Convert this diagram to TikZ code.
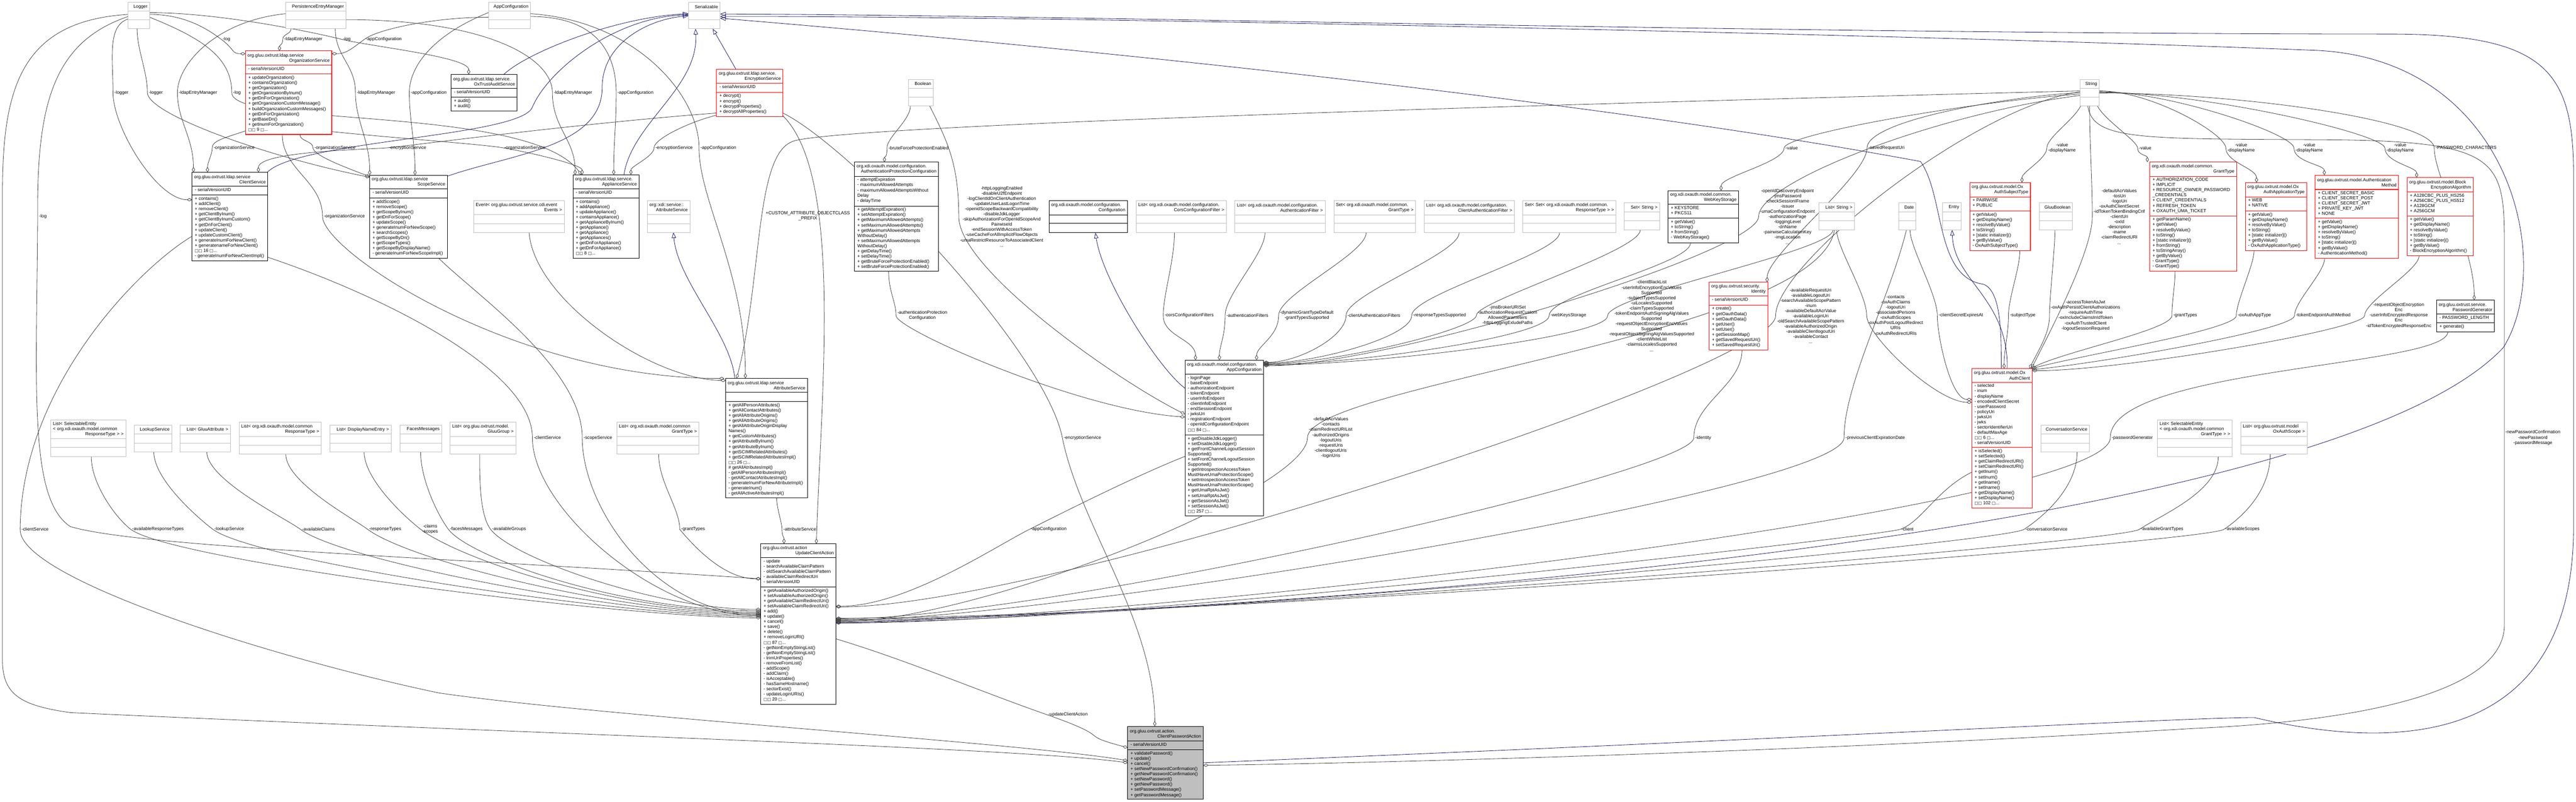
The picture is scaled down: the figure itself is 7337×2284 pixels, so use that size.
\documentclass[tikz,border=0pt]{standalone}
\usepackage{fontspec}
\setmainfont{Liberation Sans}
\newfontfamily\djv{DejaVu Sans}
\usetikzlibrary{arrows.meta}
\definecolor{edgec}{HTML}{404040}
\definecolor{navyc}{HTML}{191970}
\definecolor{boxgray}{HTML}{BFBFBF}
\definecolor{cpagray}{HTML}{BFBFBF}
\pgfdeclarelayer{bgzero}
\pgfdeclarelayer{edgelayer}
\pgfsetlayers{bgzero,edgelayer,main}
\newcommand\fs{\fontsize{12.8}{14.8}\selectfont}
\newcommand\ctr[1]{\hspace*{0pt plus 1filll}#1\hspace*{0pt plus 1filll}}
\newcommand\mrx[1]{{\djv\fontsize{11}{14.8}\selectfont □□}~#1~{\djv\fontsize{11}{14.8}\selectfont □}...}
\tikzset{
  grybox/.style={draw=boxgray, fill=white, line width=1.2pt, inner sep=0pt, outer sep=0pt},
  gryboxsep/.style={draw=boxgray, line width=1.2pt},
  blkbox/.style={draw=black, fill=white, line width=1.4pt, inner sep=0pt, outer sep=0pt},
  blkboxsep/.style={draw=black, line width=1.4pt},
  redbox/.style={draw=red, fill=white, line width=1.6pt, inner sep=0pt, outer sep=0pt},
  redboxsep/.style={draw=red, line width=1.6pt},
  cpabox/.style={draw=black, fill=cpagray, line width=1.4pt, inner sep=0pt, outer sep=0pt},
  cpaboxsep/.style={draw=black, line width=1.4pt},
  txt/.style={font=\fs, inner sep=0pt, outer sep=0pt},
  lbl/.style={font=\fs, align=center, inner sep=0pt},
  agg/.style={draw=edgec, line width=1.2pt, -{Diamond[open, length=15pt, width=9pt]}},
  inh/.style={draw=navyc, line width=1.2pt, -{Triangle[open, length=16pt, width=12pt]}},
}
% name, style, x1, y1, x2, y2, ya, yb, title
\newcommand\cls[9]{%
  \pgfmathsetmacro\bw{#5-#3}\pgfmathsetmacro\bh{#6-#4}\pgfmathsetmacro\tw{#5-#3-12}%
  \node[#2, minimum width=\bw pt, minimum height=\bh pt, anchor=north west] (#1) at (#3,#4) {};
  \draw[#2sep] (#3,#7) -- (#5,#7) (#3,#8) -- (#5,#8);
  \node[txt, text width=\tw pt, align=left] (#1T) at ({(#3+#5)/2},{(#4+#7)/2}) {#9};
  \coordinate (#1-a) at ({#3+8},{#7+5});
  \coordinate (#1-m) at ({#3+8},{#8+5});
}
\newcommand\clsA[2]{\node[txt, anchor=north west, align=left] (#1A) at (#1-a) {#2};}
\newcommand\clsM[2]{\node[txt, anchor=north west, align=left] (#1M) at (#1-m) {#2};}
% src, label, target, src-ctrl, mid-before, mid-after, tgt-ctrl
\newcommand\cnx[7]{\draw[agg] (#1) .. controls +(#4) and +(#5) .. ([xshift=-4pt]#2.west) .. controls +(#6) and +(#7) .. (#3);}
\begin{document}
\begin{tikzpicture}[x=1pt, y=-1pt]
\useasboundingbox (0,0) rectangle (7337,2284);
\begin{pgfonlayer}{bgzero}
\fill[white] (0,0) rectangle (7337,2284);
\end{pgfonlayer}

% ---------- gray boxes ----------
\cls{log}{grybox}{365}{6}{426}{82}{32}{56}{\ctr{Logger}}
\cls{pem}{grybox}{814}{6}{985}{82}{32}{56}{\ctr{PersistenceEntryManager}}
\cls{appc}{grybox}{1391}{6}{1511}{82}{32}{56}{\ctr{AppConfiguration}}
\cls{ser}{grybox}{1961}{6}{2051}{82}{32}{56}{\ctr{Serializable}}
\cls{bool}{grybox}{2588}{226}{2658}{302}{252}{277}{\ctr{Boolean}}
\cls{str}{grybox}{5924}{226}{5979}{302}{252}{277}{\ctr{String}}
\cls{sets}{grybox}{4626}{578}{4727}{655}{604}{629}{\ctr{Set< String >}}
\cls{lists}{grybox}{5181}{578}{5282}{655}{604}{629}{\ctr{List< String >}}
\cls{date}{grybox}{5408}{578}{5457}{655}{604}{629}{\ctr{Date}}
\cls{entry}{grybox}{5533}{578}{5586}{655}{604}{629}{\ctr{Entry}}
\cls{gbool}{grybox}{5808}{578}{5903}{655}{604}{629}{\ctr{GluuBoolean}}
\cls{lookup}{grybox}{382}{1211}{489}{1287}{1236}{1262}{\ctr{LookupService}}
\cls{lgattr}{grybox}{513}{1211}{656}{1287}{1236}{1262}{\ctr{List< GluuAttribute >}}
\cls{ldne}{grybox}{940}{1211}{1114}{1287}{1236}{1262}{\ctr{List< DisplayNameEntry >}}
\cls{faces}{grybox}{1139}{1211}{1258}{1287}{1236}{1262}{\ctr{FacesMessages}}
\cls{conv}{grybox}{5813}{1211}{5951}{1287}{1236}{1262}{\ctr{ConversationService}}
\cls{event}{grybox}{1349}{571}{1607}{662}{611}{637}{Event< org.gluu.oxtrust.service.cdi.event\\\ctr{Events >}}
\cls{xattr}{grybox}{1844}{571}{1965}{662}{611}{637}{org::xdi::service::\\\ctr{AttributeService}}
\cls{lcors}{grybox}{3236}{571}{3493}{663}{612}{636}{List< org.xdi.oxauth.model.configuration.\\\ctr{CorsConfigurationFilter >}}
\cls{lauth}{grybox}{3517}{571}{3774}{663}{612}{636}{List< org.xdi.oxauth.model.configuration.\\\ctr{AuthenticationFilter >}}
\cls{sgrant}{grybox}{3799}{571}{4032}{663}{612}{636}{Set< org.xdi.oxauth.model.common.\\\ctr{GrantType >}}
\cls{lcauth}{grybox}{4056}{571}{4313}{663}{612}{636}{List< org.xdi.oxauth.model.configuration.\\\ctr{ClientAuthenticationFilter >}}
\cls{ssresp}{grybox}{4337}{571}{4603}{663}{612}{636}{Set< Set< org.xdi.oxauth.model.common.\\\ctr{ResponseType > >}}
\cls{lresp}{grybox}{681}{1203}{915}{1294}{1243}{1269}{List< org.xdi.oxauth.model.common\\\ctr{ResponseType >}}
\cls{lgroup}{grybox}{1282}{1203}{1469}{1294}{1243}{1269}{List< org.gluu.oxtrust.model.\\\ctr{GluuGroup >}}
\cls{lgrant}{grybox}{1757}{1203}{1991}{1294}{1243}{1269}{List< org.xdi.oxauth.model.common\\\ctr{GrantType >}}
\cls{lscope}{grybox}{6382}{1203}{6571}{1294}{1243}{1269}{List< org.gluu.oxtrust.model\\\ctr{OxAuthScope >}}
\cls{lsresp}{grybox}{145}{1196}{358}{1301}{1250}{1275}{List< SelectableEntity\\< org.xdi.oxauth.model.common\\\ctr{ResponseType > >}}
\cls{lsgrant}{grybox}{6145}{1196}{6358}{1301}{1250}{1275}{List< SelectableEntity\\< org.xdi.oxauth.model.common\\\ctr{GrantType > >}}

% ---------- black boxes ----------
\cls{cs}{blkbox}{547}{491}{763}{743}{531}{556}{org.gluu.oxtrust.ldap.service\\\ctr{ClientService}}
\clsA{cs}{- serialVersionUID}
\clsM{cs}{+ contains()\\+ addClient()\\+ removeClient()\\+ getClientByInum()\\+ getClientByInumCustom()\\+ getDnForClient()\\+ updateClient()\\+ updateCustomClient()\\+ generateInumForNewClient()\\+ generatenameForNewClient()\\\mrx{16}\\- generateInumForNewClientImpl()}
\cls{ss}{blkbox}{1053}{499}{1274}{736}{538}{564}{org.gluu.oxtrust.ldap.service\\\ctr{ScopeService}}
\clsA{ss}{- serialVersionUID}
\clsM{ss}{+ addScope()\\+ removeScope()\\+ getScopeByInum()\\+ getDnForScope()\\+ updateScope()\\+ generateInumForNewScope()\\+ searchScopes()\\+ getScopeByDn()\\+ getScopeTypes()\\+ getScopeByDisplayName()\\- generateInumForNewScopeImpl()}
\cls{ota}{blkbox}{1285}{212}{1473}{316}{252}{277}{org.gluu.oxtrust.ldap.service.\\\ctr{OxTrustAuditService}}
\clsA{ota}{- serialVersionUID}
\clsM{ota}{+ audit()\\+ audit()}
\cls{aps}{blkbox}{1632}{498}{1820}{736}{538}{564}{org.gluu.oxtrust.ldap.service.\\\ctr{ApplianceService}}
\clsA{aps}{- serialVersionUID}
\clsM{aps}{+ contains()\\+ addAppliance()\\+ updateAppliance()\\+ containsAppliance()\\+ getApplianceByInum()\\+ getAppliance()\\+ getAppliance()\\+ getAppliances()\\+ getDnForAppliance()\\+ getDnForAppliance()\\\mrx{8}}
\cls{apc}{blkbox}{2434}{462}{2673}{772}{502}{587}{org.xdi.oxauth.model.configuration.\\\ctr{AuthenticationProtectionConfiguration}}
\clsA{apc}{- attemptExpiration\\- maximumAllowedAttempts\\- maximumAllowedAttemptsWithout\\Delay\\- delayTime}
\clsM{apc}{+ getAttemptExpiration()\\+ setAttemptExpiration()\\+ getMaximumAllowedAttempts()\\+ setMaximumAllowedAttempts()\\+ getMaximumAllowedAttempts\\WithoutDelay()\\+ setMaximumAllowedAttempts\\WithoutDelay()\\+ getDelayTime()\\+ setDelayTime()\\+ getBruteForceProtectionEnabled()\\+ setBruteForceProtectionEnabled()}
\cls{conf}{blkbox}{2988}{571}{3211}{663}{612}{636}{org.xdi.oxauth.model.configuration.\\\ctr{Configuration}}
\cls{wks}{blkbox}{4751}{543}{4952}{692}{582}{622}{org.xdi.oxauth.model.common.\\\ctr{WebKeyStorage}}
\clsA{wks}{+ KEYSTORE\\+ PKCS11}
\clsM{wks}{+ getValue()\\+ toString()\\+ fromString()\\- WebKeyStorage()}
\cls{pg}{blkbox}{6940}{855}{7105}{945}{895}{920}{org.gluu.oxtrust.service.\\\ctr{PasswordGenerator}}
\clsA{pg}{- PASSWORD\_LENGTH}
\clsM{pg}{+ generate()}
\cls{as}{blkbox}{2067}{1078}{2300}{1418}{1118}{1144}{org.gluu.oxtrust.ldap.service\\\ctr{AttributeService}}
\clsM{as}{+ getAllPersonAttributes()\\+ getAllContactAttributes()\\+ getAllAttributeOrigins()\\+ getAllAttributeOrigins()\\+ getAllAttributeOriginDisplay\\Names()\\+ getCustomAttributes()\\+ getAttributeByInum()\\+ getAttributeByInum()\\+ getSCIMRelatedAttributes()\\+ getSCIMRelatedAttributesImpl()\\\mrx{26}\\\# getAllAtributesImpl()\\- getAllPersonAtributesImpl()\\- getAllContactAtributesImpl()\\- generateInumForNewAttributeImpl()\\- generateInum()\\- getAllActiveAtributesImpl()}
\cls{uca}{blkbox}{2167}{1549}{2381}{2006}{1589}{1672}{org.gluu.oxtrust.action\\\ctr{UpdateClientAction}}
\clsA{uca}{- update\\- searchAvailableClaimPattern\\- oldSearchAvailableClaimPattern\\- availableClaimRedirectUri\\- serialVersionUID}
\clsM{uca}{+ getAvailableAuthorizedOrigin()\\+ setAvailableAuthorizedOrigin()\\+ getAvailableClaimRedirectUri()\\+ setAvailableClaimRedirectUri()\\+ add()\\+ update()\\+ cancel()\\+ save()\\+ delete()\\+ removeLoginURI()\\\mrx{87}\\- getNonEmptyStringList()\\- getNonEmptyStringList()\\- trimUriProperties()\\- removeFromList()\\- addScope()\\- addClaim()\\- isAcceptable()\\- hasSameHostname()\\- sectorExist()\\- updateLoginURIs()\\\mrx{20}}
\cls{xac}{blkbox}{3375}{1026}{3599}{1469}{1066}{1239}{org.xdi.oxauth.model.configuration.\\\ctr{AppConfiguration}}
\clsA{xac}{- loginPage\\- baseEndpoint\\- authorizationEndpoint\\- tokenEndpoint\\- userInfoEndpoint\\- clientInfoEndpoint\\- endSessionEndpoint\\- jwksUri\\- registrationEndpoint\\- openIdConfigurationEndpoint\\\mrx{84}}
\clsM{xac}{+ getDisableJdkLogger()\\+ setDisableJdkLogger()\\+ getFrontChannelLogoutSession\\Supported()\\+ setFrontChannelLogoutSession\\Supported()\\+ getIntrospectionAccessToken\\MustHaveUmaProtectionScope()\\+ setIntrospectionAccessToken\\MustHaveUmaProtectionScope()\\+ getUmaRptAsJwt()\\+ setUmaRptAsJwt()\\+ getSessionAsJwt()\\+ setSessionAsJwt()\\\mrx{257}}
\cls{cpa}{cpabox}{3212}{2069}{3427}{2277}{2111}{2136}{org.gluu.oxtrust.action.\\\ctr{ClientPasswordAction}}
\clsA{cpa}{- serialVersionUID}
\clsM{cpa}{+ validatePassword()\\+ update()\\+ cancel()\\+ setNewPasswordConfirmation()\\+ getNewPasswordConfirmation()\\+ setNewPassword()\\+ getNewPassword()\\+ setPasswordMessage()\\+ getPasswordMessage()}

% ---------- red boxes ----------
\cls{org}{redbox}{699}{145}{945}{383}{186}{211}{org.gluu.oxtrust.ldap.service\\\ctr{OrganizationService}}
\clsA{org}{- serialVersionUID}
\clsM{org}{+ updateOrganization()\\+ containsOrganization()\\+ getOrganization()\\+ getOrganizationByInum()\\+ getDnForOrganization()\\+ getOrganizationCustomMessage()\\+ buildOrganizationCustomMessages()\\+ getDnForOrganization()\\+ getBaseDn()\\+ getInumForOrganization()\\\mrx{9}}
\cls{enc}{redbox}{2041}{197}{2230}{332}{237}{263}{org.gluu.oxtrust.ldap.service.\\\ctr{EncryptionService}}
\clsA{enc}{- serialVersionUID}
\clsM{enc}{+ decrypt()\\+ encrypt()\\+ decryptProperties()\\+ decryptAllProperties()}
\cls{ost}{redbox}{5610}{520}{5783}{714}{561}{601}{org.gluu.oxtrust.model.Ox\\\ctr{AuthSubjectType}}
\clsA{ost}{+ PAIRWISE\\+ PUBLIC}
\clsM{ost}{+ getValue()\\+ getDisplayName()\\+ resolveByValue()\\+ toString()\\+ [static initializer]()\\+ getByValue()\\- OxAuthSubjectType()}
\cls{idn}{redbox}{4868}{804}{5035}{997}{843}{869}{org.gluu.oxtrust.security.\\\ctr{Identity}}
\clsA{idn}{- serialVersionUID}
\clsM{idn}{+ create()\\+ getOauthData()\\+ setOauthData()\\+ getUser()\\+ setUser()\\+ getSessionMap()\\+ getSavedRequestUri()\\+ setSavedRequestUri()}
\cls{gt}{redbox}{6123}{462}{6370}{772}{502}{615}{org.xdi.oxauth.model.common.\\\ctr{GrantType}}
\clsA{gt}{+ AUTHORIZATION\_CODE\\+ IMPLICIT\\+ RESOURCE\_OWNER\_PASSWORD\\\_CREDENTIALS\\+ CLIENT\_CREDENTIALS\\+ REFRESH\_TOKEN\\+ OXAUTH\_UMA\_TICKET}
\clsM{gt}{+ getParamName()\\+ getValue()\\+ resolveByValue()\\+ toString()\\+ [static initializer]()\\+ fromString()\\+ toStringArray()\\+ getByValue()\\- GrantType()\\- GrantType()}
\cls{oat}{redbox}{6395}{520}{6570}{714}{561}{601}{org.gluu.oxtrust.model.Ox\\\ctr{AuthApplicationType}}
\clsA{oat}{+ WEB\\+ NATIVE}
\clsM{oat}{+ getValue()\\+ getDisplayName()\\+ resolveByValue()\\+ toString()\\+ [static initializer]()\\+ getByValue()\\- OxAuthApplicationType()}
\cls{am}{redbox}{6594}{499}{6832}{736}{540}{622}{org.gluu.oxtrust.model.Authentication\\\ctr{Method}}
\clsA{am}{+ CLIENT\_SECRET\_BASIC\\+ CLIENT\_SECRET\_POST\\+ CLIENT\_SECRET\_JWT\\+ PRIVATE\_KEY\_JWT\\+ NONE}
\clsM{am}{+ getValue()\\+ getDisplayName()\\+ resolveByValue()\\+ toString()\\+ [static initializer]()\\+ getByValue()\\- AuthenticationMethod()}
\cls{bea}{redbox}{6856}{506}{7044}{729}{547}{615}{org.gluu.oxtrust.model.Block\\\ctr{EncryptionAlgorithm}}
\clsA{bea}{+ A128CBC\_PLUS\_HS256\\+ A256CBC\_PLUS\_HS512\\+ A128GCM\\+ A256GCM}
\clsM{bea}{+ getValue()\\+ getDisplayName()\\+ resolveByValue()\\+ toString()\\+ [static initializer]()\\+ getByValue()\\- BlockEncryptionAlgorithm()}
\cls{oac}{redbox}{5616}{1050}{5788}{1447}{1089}{1275}{org.gluu.oxtrust.model.Ox\\\ctr{AuthClient}}
\clsA{oac}{- selected\\- inum\\- displayName\\- encodedClientSecret\\- userPassword\\- policyUri\\- jwksUri\\- jwks\\- sectorIdentifierUri\\- defaultMaxAge\\\mrx{6}\\- serialVersionUID}
\clsM{oac}{+ isSelected()\\+ setSelected()\\+ getClaimRedirectURI()\\+ setClaimRedirectURI()\\+ getInum()\\+ setInum()\\+ getIname()\\+ setIname()\\+ getDisplayName()\\+ setDisplayName()\\\mrx{102}}

% ---------- labels ----------
\node[lbl] (L1) at (645,112) {-log};
\node[lbl] (L2) at (864,112) {-ldapEntryManager};
\node[lbl] (L3) at (988,112) {-log};
\node[lbl] (L4) at (1093,112) {-appConfiguration};
\node[lbl] (L5) at (346,264) {-logger};
\node[lbl] (L6) at (444,264) {-logger};
\node[lbl] (L7) at (564,264) {-ldapEntryManager};
\node[lbl] (L8) at (675,264) {-log};
\node[lbl] (L9) at (1071,264) {-ldapEntryManager};
\node[lbl] (L10) at (1221,264) {-appConfiguration};
\node[lbl] (L11) at (1632,264) {-ldapEntryManager};
\node[lbl] (L12) at (1810,264) {-appConfiguration};
\node[lbl] (L13) at (667,421) {-organizationService};
\node[lbl] (L14) at (954,421) {-organizationService};
\node[lbl] (L15) at (1161,421) {-encryptionService};
\node[lbl] (L16) at (1495,421) {-organizationService};
\node[lbl] (L17) at (1920,421) {-encryptionService};
\node[lbl] (L18) at (2046,421) {-appConfiguration};
\node[lbl] (L19) at (2616,421) {-bruteForceProtectionEnabled};
\node[lbl] (L20) at (2301,615) {+CUSTOM\_ATTRIBUTE\_OBJECTCLASS\\\_PREFIX};
\node[lbl] (L21) at (981,616) {-organizationService};
\node[lbl] (L22) at (2853,617) {-httpLoggingEnabled\\-disableU2fEndpoint\\-logClientIdOnClientAuthentication\\-updateUserLastLogonTime\\-openidScopeBackwardCompatibility\\-disableJdkLogger\\-skipAuthorizationForOpenIdScopeAnd\\PairwiseId\\-endSessionWithAccessToken\\-useCacheForAllImplicitFlowObjects\\-umaRestrictResourceToAssociatedClient\\...};
\node[lbl] (L23) at (2627,899) {-authenticationProtection\\Configuration};
\node[lbl] (L24) at (3387,899) {-corsConfigurationFilters};
\node[lbl] (L25) at (3553,899) {-authenticationFilters};
\node[lbl] (L26) at (3722,899) {-dynamicGrantTypeDefault\\-grantTypesSupported};
\node[lbl] (L27) at (3913,899) {-clientAuthenticationFilters};
\node[lbl] (L28) at (4100,899) {-responseTypesSupported};
\node[lbl] (L29) at (4294,898) {-jmsBrokerURISet\\-authorizationRequestCustom\\AllowedParameters\\-httpLoggingExludePaths};
\node[lbl] (L30) at (4467,899) {-webKeysStorage};
\node[lbl] (L31) at (4704,900) {-clientBlackList\\-userInfoEncryptionEncValues\\Supported\\-subjectTypesSupported\\-uiLocalesSupported\\-claimTypesSupported\\-tokenEndpointAuthSigningAlgValues\\Supported\\-requestObjectEncryptionEncValues\\Supported\\-requestObjectSigningAlgValuesSupported\\-clientWhiteList\\-claimsLocalesSupported\\...};
\node[lbl] (L32) at (5091,617) {-openIdDiscoveryEndpoint\\-jmsPassword\\-checkSessionIFrame\\-issuer\\-umaConfigurationEndpoint\\-authorizationPage\\-loggingLevel\\-dnName\\-pairwiseCalculationKey\\-imgLocation\\...};
\node[lbl] (L33) at (5103,422) {-value};
\node[lbl] (L34) at (5373,422) {-savedRequestUri};
\node[lbl] (L35) at (5399,898) {-contacts\\-oxAuthClaims\\-logoutUri\\-associatedPersons\\-oxAuthScopes\\-oxAuthPostLogoutRedirect\\URIs\\-oxAuthRedirectURIs};
\node[lbl] (L36) at (5157,900) {-availableRequestUri\\-availableLogoutUri\\-searchAvailableScopePattern\\-inum\\-availableDefaultAcrValue\\-availableLoginUri\\-oldSearchAvailableScopePattern\\-availableAuthorizedOrigin\\-availableClientlogoutUri\\-availableContact\\...};
\node[lbl] (L37) at (5873,422) {-value\\-displayName};
\node[lbl] (L38) at (6110,422) {-value};
\node[lbl] (L39) at (6383,422) {-value\\-displayName};
\node[lbl] (L40) at (6577,422) {-value\\-displayName};
\node[lbl] (L41) at (6836,422) {-value\\-displayName};
\node[lbl] (L42) at (7024,422) {-PASSWORD\_CHARACTERS};
\node[lbl] (L43) at (6036,617) {-defaultAcrValues\\-tosUri\\-logoUri\\-oxAuthClientSecret\\-idTokenTokenBindingCnf\\-clientUri\\-oxId\\-description\\-iname\\-claimRedirectURI\\...};
\node[lbl] (L44) at (5940,899) {-accessTokenAsJwt\\-oxAuthPersistClientAuthorizations\\-requireAuthTime\\-oxIncludeClaimsInIdToken\\-oxAuthTrustedClient\\-logoutSessionRequired};
\node[lbl] (L45) at (6224,899) {-grantTypes};
\node[lbl] (L46) at (6421,899) {-oxAuthAppType};
\node[lbl] (L47) at (6617,899) {-tokenEndpointAuthMethod};
\node[lbl] (L48) at (6832,899) {-requestObjectEncryption\\Enc\\-userInfoEncryptedResponse\\Enc\\-idTokenEncryptedResponseEnc};
\node[lbl] (L49) at (5761,899) {-subjectType};
\node[lbl] (L50) at (5585,899) {-clientSecretExpiresAt};
\node[lbl] (L52) at (122,617) {-log};
\node[lbl] (L53) at (100,1508) {-clientService};
\node[lbl] (L54) at (450,1508) {-availableResponseTypes};
\node[lbl] (L55) at (653,1508) {-lookupService};
\node[lbl] (L56) at (907,1508) {-availableClaims};
\node[lbl] (L57) at (1097,1508) {-responseTypes};
\node[lbl] (L58) at (1225,1508) {-claims\\-scopes};
\node[lbl] (L59) at (1328,1508) {-facesMessages};
\node[lbl] (L60) at (1450,1508) {-availableGroups};
\node[lbl] (L61) at (1974,1508) {-grantTypes};
\node[lbl] (L62) at (1559,1247) {-clientService};
\node[lbl] (L63) at (1703,1247) {-scopeService};
\node[lbl] (L64) at (3083,1247) {-encryptionService};
\node[lbl] (L65) at (2987,1508) {-appConfiguration};
\node[lbl] (L66) at (3790,1247) {-defaultAcrValues\\-contacts\\-claimRedirectURIList\\-authorizedOrigins\\-logoutUris\\-requestUris\\-clientlogoutUris\\-loginUris};
\node[lbl] (L67) at (4851,1247) {-identity};
\node[lbl] (L68) at (5341,1247) {-previousClientExpirationDate};
\node[lbl] (L69) at (5433,1508) {-client};
\node[lbl] (L70) at (5829,1508) {-conversationService};
\node[lbl] (L71) at (6073,1247) {-passwordGenerator};
\node[lbl] (L72) at (6158,1508) {-availableGrantTypes};
\node[lbl] (L73) at (6387,1508) {-availableScopes};
\node[lbl] (L74) at (7214,1247) {-newPasswordConfirmation\\-newPassword\\-passwordMessage};
\node[lbl] (L75) at (2278,1508) {-attributeService};
\node[lbl] (L76) at (3042,2036) {-updateClientAction};

% waypoints
\coordinate (w22) at (2253,405);
\coordinate (w24) at (1516,306);
\coordinate (w25) at (1715,250);
\coordinate (w29a) at (7130,990);
\coordinate (w29b) at (6584,143);
\coordinate (w30a) at (6420,2044);
\coordinate (w30b) at (7330,1500);
\coordinate (w30c) at (7330,500);
\coordinate (w30d) at (6800,97);
\coordinate (w31a) at (5650,810);
\coordinate (w31b) at (5470,460);
\coordinate (w55a) at (6600,398);
\coordinate (w55b) at (7133,700);
\coordinate (w55c) at (7133,1780);
\coordinate (w55d) at (6250,2075);
\coordinate (w75a) at (7,550);
\coordinate (w75b) at (7,1880);
\coordinate (w75c) at (200,2030);
\coordinate (w76) at (1250,1974);
\coordinate (w77) at (200,1500);

\begin{pgfonlayer}{edgelayer}
% top-left cluster
\cnx{[yshift=3]log.east}{L1}{[yshift=-8]org.north west}{100,0}{-40,-30}{40,30}{-40,0}
\cnx{[xshift=15]pem.south west}{L2}{[xshift=97]org.north west}{0,15}{0,-15}{0,15}{0,-15}
\cnx{[yshift=-5]appc.west}{L4}{[yshift=-8]org.north east}{-150,0}{40,-30}{-40,30}{40,0}
\cnx{[yshift=8]log.east}{L3}{[xshift=50]ota.north west}{200,0}{-80,-20}{80,20}{0,-50}
\cnx{[xshift=-30]pem.south east}{L9}{ss.north west}{0,80}{0,-80}{0,80}{0,-100}
\cnx{[yshift=5]pem.west}{L7}{[xshift=4]cs.north west}{-200,20}{0,-80}{0,80}{0,-100}
\cnx{[yshift=-12]pem.east}{L11}{[xshift=6]aps.north west}{400,0}{0,-100}{0,100}{0,-100}
\cnx{[yshift=8]appc.west}{L10}{[xshift=-92]ss.north east}{-150,60}{0,-80}{0,80}{0,-100}
\cnx{[yshift=-3]appc.east}{L12}{[xshift=116]aps.north west}{200,0}{0,-100}{0,100}{0,-100}
\cnx{[yshift=5]appc.east}{L18}{[xshift=56]as.north west}{300,20}{0,-150}{0,150}{0,-300}
\cnx{[yshift=-10]log.west}{L5}{[yshift=-78]cs.north west}{-60,20}{0,-100}{0,100}{-100,0}
\cnx{[xshift=-5]log.south}{L6}{[yshift=-6]ss.north west}{0,60}{0,-60}{0,60}{-300,-60}
\cnx{[yshift=-5]log.east}{L8}{[xshift=24]aps.north west}{150,60}{0,-100}{0,100}{-150,-200}
\cnx{[yshift=10]org.south west}{L13}{[xshift=44]cs.north west}{-60,20}{0,-20}{0,20}{0,-30}
\cnx{[xshift=155]org.south west}{L14}{[yshift=-4]ss.north west}{0,20}{0,-20}{0,20}{-80,-30}
\cnx{[yshift=8]org.south east}{L16}{[xshift=26]aps.north west}{200,20}{-60,-10}{60,10}{0,-30}
\cnx{[xshift=105]org.south west}{L21}{[xshift=-4]as.north west}{0,100}{0,-100}{0,100}{-600,0}
\cnx{[yshift=10]enc.south west}{L15}{[xshift=-27]cs.north east}{-400,30}{60,-5}{-60,5}{0,-60}
\cnx{[yshift=4]enc.south west}{L17}{[xshift=-23]aps.north east}{-80,20}{0,-25}{0,25}{0,-25}
\cnx{[yshift=10]enc.south east}{L64}{[xshift=77]cpa.north west}{200,100}{-50,-250}{50,250}{0,-300}
\draw[agg] ([yshift=2]enc.south east) .. controls (2400,500) and (2340,1100) .. ([xshift=-56]uca.north east);
\draw[agg] ([yshift=5]str.west) .. controls (3500,320) and (2300,370) .. (w22) .. controls (2150,450) and (2170,800) .. ([xshift=31]as.north west);
\draw[agg] ([xshift=158]event.south west) .. controls (1520,850) and (1850,1080) .. ([yshift=-6]as.north west);
% AppConfiguration (xdi) members
\cnx{[xshift=5]bool.south west}{L19}{[xshift=85]apc.north west}{0,40}{0,-30}{0,30}{0,-15}
\cnx{[xshift=-10]bool.south east}{L22}{[yshift=-154]xac.north west}{50,100}{0,-150}{0,150}{-200,-100}
\cnx{[xshift=97]apc.south west}{L23}{[yshift=-162]xac.north west}{0,60}{0,-40}{0,40}{-300,-20}
\cnx{[xshift=109]lcors.south west}{L24}{[xshift=30]xac.north west}{0,80}{0,-60}{0,60}{0,-60}
\cnx{[xshift=86]lauth.south west}{L25}{[xshift=98]xac.north west}{0,60}{0,-60}{0,60}{0,-40}
\cnx{[xshift=92]sgrant.south west}{L26}{[xshift=-20]xac.north east}{0,60}{0,-60}{0,60}{0,-40}
\cnx{[xshift=100]lcauth.south west}{L27}{[yshift=-6]xac.north east}{0,60}{0,-60}{0,60}{100,0}
\cnx{[xshift=105]ssresp.south west}{L28}{[yshift=-8]xac.north east}{0,60}{0,-60}{0,60}{150,0}
\cnx{[xshift=46]sets.south west}{L29}{[yshift=-10]xac.north east}{0,60}{0,-40}{0,40}{200,0}
\cnx{[xshift=64]wks.south west}{L30}{[yshift=-12]xac.north east}{0,60}{0,-60}{0,60}{250,0}
\cnx{[xshift=40]lists.south west}{L31}{[yshift=-14]xac.north east}{0,60}{0,-60}{0,60}{300,0}
\cnx{[yshift=-8]str.west}{L32}{[yshift=-16]xac.north east}{-400,50}{0,-100}{0,100}{350,0}
% String members
\cnx{[yshift=-4]str.west}{L33}{[xshift=-50]wks.north east}{-300,20}{0,-40}{0,40}{0,-40}
\cnx{str.west}{L34}{[xshift=-2]idn.north east}{-200,10}{0,-80}{0,80}{0,-80}
\cnx{[yshift=2]str.west}{L36}{[yshift=-180]uca.north east}{-300,40}{0,-150}{0,150}{600,0}
\cnx{[xshift=2]str.south west}{L37}{[xshift=-24]ost.north east}{-20,40}{0,-30}{0,30}{0,-30}
\cnx{[xshift=-5]str.south east}{L38}{[xshift=-7]gt.north west}{20,40}{0,-20}{0,20}{0,-20}
\cnx{[yshift=5]str.east}{L39}{[xshift=32]oat.north west}{150,0}{0,-40}{0,40}{0,-40}
\cnx{[yshift=3]str.east}{L40}{[xshift=26]am.north west}{200,0}{0,-40}{0,40}{0,-30}
\cnx{[yshift=1]str.east}{L41}{[xshift=27]bea.north west}{300,0}{0,-40}{0,40}{0,-30}
\cnx{[yshift=-1]str.east}{L42}{[xshift=107]pg.north west}{400,0}{0,-80}{0,80}{0,-150}
\cnx{str.south}{L43}{[xshift=-2]oac.north east}{0,100}{0,-100}{0,100}{50,-100}
\draw[agg] ([xshift=-5]str.south) .. controls (5960,400) and (6100,395) .. (w55a) .. controls (7120,400) and (7133,450) .. (w55b) -- (w55c) .. controls (7133,2000) and (6600,2060) .. (w55d) .. controls (5000,2150) and (3700,2178) .. ([yshift=-111]cpa.north east);
% OxAuthClient members
\cnx{[xshift=45]gbool.south west}{L44}{[xshift=-8]oac.north east}{0,50}{0,-50}{0,50}{30,-60}
\cnx{[xshift=72]gt.south west}{L45}{[xshift=-4]oac.north east}{0,40}{0,-40}{0,40}{100,-50}
\cnx{[xshift=25]oat.south west}{L46}{[xshift=-1]oac.north east}{0,40}{0,-40}{0,40}{150,-40}
\cnx{[xshift=27]am.south west}{L47}{[yshift=-3]oac.north east}{0,40}{0,-40}{0,40}{200,-20}
\cnx{[xshift=34]bea.south west}{L48}{[yshift=-6]oac.north east}{0,40}{0,-40}{0,40}{250,0}
\cnx{[xshift=-30]ost.south east}{L49}{[xshift=92]oac.north west}{0,50}{0,-50}{0,50}{0,-50}
\cnx{[xshift=32]date.south west}{L50}{[yshift=-88]oac.north west}{0,50}{0,-60}{0,60}{-60,0}
\cnx{[xshift=50]lists.south west}{L35}{[yshift=-96]oac.north west}{0,50}{0,-60}{0,60}{-100,0}
% UpdateClientAction members (right)
\cnx{[xshift=44]lists.south west}{L66}{[yshift=-222]uca.north east}{-50,300}{0,-150}{0,150}{400,0}
\cnx{[xshift=22]date.south west}{L68}{[yshift=-218]uca.north east}{-50,200}{0,-150}{0,150}{600,0}
\cnx{[xshift=10]idn.south}{L67}{[yshift=-214]uca.north east}{0,100}{0,-100}{0,100}{600,0}
\cnx{[yshift=-295]oac.north west}{L69}{[yshift=-226]uca.north east}{-100,50}{60,-20}{-60,20}{800,0}
\cnx{[xshift=-35]conv.south east}{L70}{[yshift=-224]uca.north east}{0,100}{60,-40}{-60,40}{800,0}
\cnx{[xshift=32]pg.south west}{L71}{[yshift=-220]uca.north east}{0,100}{0,-200}{0,200}{900,0}
\cnx{[xshift=-40]lsgrant.south east}{L72}{[yshift=-216]uca.north east}{0,100}{60,-40}{-60,40}{900,0}
\cnx{[xshift=84]lscope.south west}{L73}{[yshift=-212]uca.north east}{0,100}{60,-40}{-60,40}{1000,0}
\cnx{[yshift=-274]xac.north west}{L65}{[yshift=-178]uca.north east}{-150,60}{100,-50}{-100,50}{200,0}
% UpdateClientAction members (left)
\cnx{[xshift=115]lsresp.south west}{L54}{[yshift=-211]uca.north west}{0,80}{-40,-30}{120,90}{-400,0}
\cnx{[xshift=56]lookup.south west}{L55}{[yshift=-207]uca.north west}{0,80}{-40,-30}{120,90}{-400,0}
\cnx{[xshift=76]lgattr.south west}{L56}{[yshift=-203]uca.north west}{0,80}{-40,-30}{120,90}{-400,0}
\cnx{[xshift=133]lresp.south west}{L57}{[yshift=-199]uca.north west}{0,80}{-40,-30}{120,90}{-400,0}
\cnx{[xshift=97]ldne.south west}{L58}{[yshift=-195]uca.north west}{0,80}{-40,-30}{120,90}{-400,0}
\cnx{[xshift=59]faces.south west}{L59}{[yshift=-191]uca.north west}{0,80}{-30,-40}{60,80}{-400,0}
\cnx{[xshift=84]lgroup.south west}{L60}{[yshift=-187]uca.north west}{0,80}{-30,-40}{60,80}{-300,0}
\cnx{[xshift=119]lgrant.south west}{L61}{[yshift=-100]uca.north west}{0,80}{0,-60}{50,60}{-100,0}
\cnx{[yshift=10]cs.south east}{L62}{[yshift=-204]uca.north west}{300,100}{0,-200}{0,200}{-300,0}
\cnx{[xshift=-24]ss.south east}{L63}{[yshift=-200]uca.north west}{100,100}{0,-200}{0,200}{-300,0}
\cnx{[xshift=145]as.south west}{L75}{[xshift=66]uca.north west}{0,30}{0,-20}{0,20}{0,-20}
\draw[agg] ([yshift=-3]log.west) .. controls (150,120) and (105,300) .. ([xshift=-4pt]L52.west) .. controls (105,1100) and (80,1420) .. (w77) .. controls (400,1560) and (1300,1590) .. ([yshift=-100]uca.north west);
% ClientPasswordAction members
\cnx{[yshift=-271]uca.north east}{L76}{[yshift=-61]cpa.north west}{200,60}{-200,-70}{200,70}{-150,-40}
\draw[agg] ([yshift=-182]cs.north west) .. controls (400,760) and (60,1100) .. ([xshift=-4pt]L53.west) .. controls (54,1650) and (800,1880) .. (w76) .. controls (1700,2040) and (2900,2115) .. ([yshift=-98]cpa.north west);
\draw[agg] ([yshift=3]log.west) .. controls (60,60) and (7,250) .. (w75a) -- (w75b) .. controls (7,1980) and (60,2010) .. (w75c) .. controls (1500,2090) and (2900,2130) .. ([yshift=-104]cpa.north west);
% inheritance
\draw[inh] ([xshift=-38]ota.north east) .. controls (1500,150) and (1750,50) .. ([yshift=5]ser.west);
\draw[inh] ([xshift=-2]cs.north east) .. controls (850,400) and (1480,390) .. (w24) .. controls (1560,200) and (1750,50) .. ([yshift=2]ser.west);
\draw[inh] ([yshift=-3]ss.north east) .. controls (1450,440) and (1715,420) .. (w25) .. controls (1715,120) and (1850,55) .. ([yshift=-1]ser.west);
\draw[inh] ([xshift=-43]aps.north east) .. controls (1800,350) and (1990,250) .. ([xshift=-25]ser.south);
\draw[inh] ([xshift=55]enc.north west) -- ([xshift=-21]ser.south east);
\draw[inh] ([xshift=26]as.north west) .. controls (2080,950) and (1930,800) .. ([xshift=-47]xattr.south east);
\draw[inh] ([yshift=-226]uca.north east) .. controls (4500,1700) and (6700,1450) .. (w29a) .. controls (7280,750) and (7150,160) .. (w29b) .. controls (5500,100) and (3000,45) .. ([yshift=-3]ser.east);
\draw[inh] ([yshift=-104]cpa.north east) .. controls (5000,2110) and (6200,2045) .. (w30a) .. controls (6700,2110) and (7330,2200) .. (w30b) -- (w30c) .. controls (7330,200) and (7250,96) .. (w30d) .. controls (5000,96) and (3000,42) .. ([yshift=4]ser.east);
\draw[inh] ([xshift=84]oac.north west) .. controls (5700,950) and (5700,830) .. (w31a) .. controls (5510,790) and (5540,560) .. (w31b) .. controls (4500,280) and (3000,130) .. ([yshift=-8]ser.east);
\draw[inh] ([xshift=101]oac.north west) .. controls (5720,850) and (5565,800) .. ([xshift=-26]entry.south east);
\draw[inh] ([yshift=-80]xac.north west) .. controls (3300,1050) and (3140,800) .. ([xshift=132]conf.south west);
\end{pgfonlayer}
\end{tikzpicture}
\end{document}
